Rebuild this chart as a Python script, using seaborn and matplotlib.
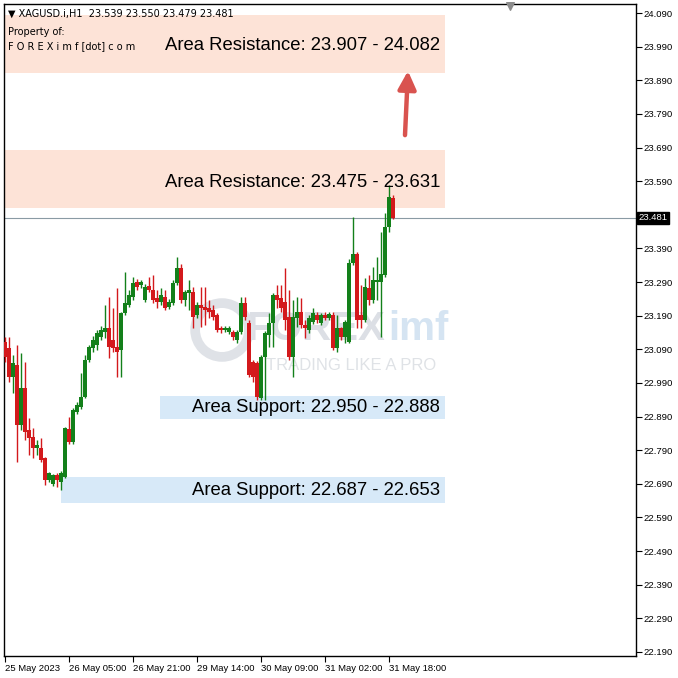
import numpy as np
import pandas as pd
import matplotlib
matplotlib.use("Agg")
import matplotlib.pyplot as plt
import seaborn as sns

# XAGUSD H1 candles
opens = [23.111, 23.093, 23.007, 23.042, 22.864, 22.974, 22.849, 22.828, 22.796, 22.796,
         22.766, 22.700, 22.689, 22.715, 22.694, 22.709, 22.852, 22.813, 22.903, 22.918,
         22.947, 23.057, 23.093, 23.102, 23.126, 23.141, 23.152, 23.117, 23.096, 23.087,
         23.197, 23.221, 23.245, 23.289, 23.280, 23.236, 23.277, 23.265, 23.242, 23.230,
         23.245, 23.215, 23.227, 23.286, 23.331, 23.236, 23.257, 23.260, 23.191, 23.221,
         23.215, 23.212, 23.206, 23.191, 23.152, 23.147, 23.141, 23.141, 23.117, 23.141,
         23.227, 23.167, 23.051, 23.048, 22.944, 23.066, 23.132, 23.167, 23.251, 23.242,
         23.230, 23.185, 23.066, 23.182, 23.200, 23.161, 23.147, 23.170, 23.191, 23.167,
         23.191, 23.182, 23.191, 23.093, 23.152, 23.126, 23.111, 23.346, 23.373, 23.191,
         23.176, 23.271, 23.236, 23.289, 23.289, 23.310, 23.453, 23.539]
closes = [23.066, 23.007, 23.048, 22.864, 22.974, 22.843, 22.825, 22.796, 22.805, 22.760,
          22.700, 22.721, 22.715, 22.700, 22.721, 22.855, 22.813, 22.909, 22.923, 22.947,
          23.057, 23.096, 23.117, 23.138, 23.147, 23.152, 23.096, 23.093, 23.081, 23.197,
          23.227, 23.251, 23.286, 23.274, 23.289, 23.274, 23.265, 23.236, 23.230, 23.251,
          23.212, 23.230, 23.286, 23.331, 23.236, 23.260, 23.265, 23.185, 23.221, 23.212,
          23.206, 23.200, 23.185, 23.147, 23.147, 23.152, 23.152, 23.126, 23.141, 23.227,
          23.185, 23.013, 23.007, 22.947, 23.066, 23.138, 23.167, 23.251, 23.236, 23.212,
          23.176, 23.066, 23.185, 23.200, 23.161, 23.152, 23.182, 23.197, 23.176, 23.191,
          23.182, 23.194, 23.093, 23.152, 23.126, 23.170, 23.346, 23.373, 23.176, 23.176,
          23.274, 23.236, 23.295, 23.295, 23.313, 23.453, 23.542, 23.481]
highs = [23.126, 23.126, 23.072, 23.102, 23.078, 23.051, 22.885, 22.855, 22.819, 22.825,
         22.770, 22.724, 22.718, 22.721, 22.727, 22.858, 22.888, 22.915, 22.932, 23.019,
         23.072, 23.102, 23.129, 23.147, 23.158, 23.221, 23.245, 23.212, 23.271, 23.200,
         23.319, 23.265, 23.304, 23.298, 23.295, 23.283, 23.304, 23.310, 23.265, 23.271,
         23.265, 23.239, 23.295, 23.364, 23.343, 23.265, 23.295, 23.274, 23.230, 23.274,
         23.274, 23.236, 23.221, 23.197, 23.158, 23.158, 23.158, 23.147, 23.147, 23.245,
         23.245, 23.176, 23.057, 23.054, 23.072, 23.144, 23.197, 23.257, 23.280, 23.280,
         23.331, 23.265, 23.236, 23.245, 23.242, 23.176, 23.191, 23.212, 23.200, 23.197,
         23.200, 23.200, 23.200, 23.191, 23.155, 23.176, 23.358, 23.483, 23.378, 23.280,
         23.301, 23.310, 23.334, 23.364, 23.438, 23.494, 23.578, 23.550]
lows = [23.051, 22.992, 22.959, 22.754, 22.849, 22.819, 22.775, 22.766, 22.775, 22.754,
        22.686, 22.694, 22.683, 22.680, 22.671, 22.706, 22.807, 22.807, 22.897, 22.912,
        22.944, 23.051, 23.081, 23.087, 23.117, 23.123, 23.063, 23.081, 23.007, 23.007,
        23.191, 23.215, 23.236, 23.265, 23.271, 23.230, 23.260, 23.227, 23.212, 23.221,
        23.206, 23.209, 23.221, 23.280, 23.227, 23.218, 23.206, 23.152, 23.182, 23.155,
        23.161, 23.182, 23.176, 23.141, 23.138, 23.141, 23.135, 23.117, 23.108, 23.135,
        23.176, 23.007, 22.992, 22.938, 22.938, 22.938, 23.096, 23.096, 23.212, 23.200,
        23.147, 23.057, 23.007, 23.155, 23.152, 23.123, 23.138, 23.164, 23.167, 23.161,
        23.176, 23.176, 23.087, 23.081, 23.117, 23.108, 23.108, 23.340, 23.152, 23.152,
        23.170, 23.221, 23.227, 23.236, 23.126, 23.304, 23.438, 23.479]

time_labels = ["25 May 2023", "26 May 05:00", "26 May 21:00", "29 May 14:00",
               "30 May 09:00", "31 May 02:00", "31 May 18:00"]
label_bars = [0, 16, 32, 48, 64, 80, 96]

# zones drawn on the chart
zone_lo = [23.912, 23.509, 22.883, 22.632]
zone_hi = [24.084, 23.682, 22.950, 22.709]
zone_start = [-0.25, -0.25, 38.75, 14.0]
zone_text = ["Area Resistance: 23.907 - 24.082", "Area Resistance: 23.475 - 23.631",
             "Area Support: 22.950 - 22.888", "Area Support: 22.687 - 22.653"]
zone_text_y = [23.995, 23.587, 22.918, 22.669]
zone_kind = ["res", "res", "sup", "sup"]

last_price = 23.481
ohlc_header = "XAGUSD.i,H1  23.539 23.550 23.479 23.481"

df = pd.DataFrame({"open": opens, "high": highs, "low": lows, "close": closes})
df["bar"] = np.arange(len(df))
df["up"] = df["close"] >= df["open"]

sns.set_theme(style="white")
plt.rcParams["font.family"] = ["Liberation Sans", "DejaVu Sans"]

GREEN = "#13801a"
RED = "#d3191c"
RES_COL = "#fde3d7"
SUP_COL = "#d7e9f8"

fig = plt.figure(figsize=(6.78, 6.78), dpi=100)
fig.patch.set_facecolor("white")
ax = fig.add_axes([4 / 678, 22 / 678, 632 / 678, 652 / 678])
ax.set_facecolor("white")

zone_end = 110.0
for lo, hi, x0, txt, ty, kind in zip(zone_lo, zone_hi, zone_start, zone_text, zone_text_y, zone_kind):
    ax.fill_between([x0, zone_end], lo, hi, color=RES_COL if kind == "res" else SUP_COL,
                    lw=0, zorder=0)
    ax.text(108.75, ty, txt, ha="right", va="center", fontsize=13.3, color="black", zorder=5)

# watermark
ax.text(0.383, 0.502, "FOREX", transform=ax.transAxes, fontsize=29, fontweight="bold",
        color="#dcdfe5", ha="left", va="center", zorder=0.5)
ax.text(0.608, 0.502, "imf", transform=ax.transAxes, fontsize=29, fontweight="bold",
        color="#d5e4f2", ha="left", va="center", zorder=0.5)
ax.text(0.415, 0.445, "TRADING LIKE A PRO", transform=ax.transAxes, fontsize=12,
        color="#dfe2e6", ha="left", va="center", zorder=0.5)
ax.scatter([0.345], [0.50], transform=ax.transAxes, s=1500, facecolor="none",
           edgecolor="#dfe2e7", linewidth=7, zorder=0.5)

# candles
colors = np.where(df["up"], GREEN, RED)
ax.vlines(df["bar"], df["low"], df["high"], colors=colors, lw=1.0, zorder=3)
body_lo = np.minimum(df["open"], df["close"])
body_h = np.maximum(np.abs(df["close"] - df["open"]), 0.003)
ax.bar(df["bar"], body_h, bottom=body_lo, width=0.8, color=colors, lw=0, zorder=4)

# current price line
ax.axhline(last_price, color="#8a9aa4", lw=0.8, zorder=2)

# arrow
ax.annotate("", xy=(100.75, 23.918), xytext=(100.0, 23.727),
            arrowprops=dict(arrowstyle="-|>,head_length=0.9,head_width=0.45",
                            color="#d9534f", lw=3.2, shrinkA=0, shrinkB=0), zorder=6)

ax.set_xlim(-0.25, 157.75)
ax.set_ylim(22.178, 24.117)

yt = np.round(np.arange(22.19, 24.091, 0.1), 3)
ax.yaxis.tick_right()
ax.set_yticks(yt)
# the price tag hides the tick label next to it
ax.set_yticklabels(["" if abs(v - last_price) < 0.05 else f"{v:.3f}" for v in yt], fontsize=6.8)
ax.set_xticks(label_bars)
ax.set_xticklabels(time_labels, fontsize=6.8, ha="left")
ax.tick_params(axis="both", which="both", direction="out", length=4, width=0.8,
               color="black", pad=1.5, labelcolor="black")
ax.tick_params(axis="y", left=False, right=True)
ax.tick_params(axis="x", bottom=True)
for s in ax.spines.values():
    s.set_visible(True)
    s.set_color("black")
    s.set_linewidth(1.0)

# price tag on axis
ax.text(1.004, last_price, f"{last_price:.3f}", transform=ax.get_yaxis_transform(),
        ha="left", va="center", fontsize=6.8, color="white", zorder=10, clip_on=False,
        bbox=dict(boxstyle="square,pad=0.15", fc="black", ec="black"))

# header
ax.text(0.006, 0.992, "\u25bc " + ohlc_header, transform=ax.transAxes, fontsize=7,
        ha="left", va="top", color="black", family=["DejaVu Sans"])
ax.text(0.006, 0.965, "Property of:", transform=ax.transAxes, fontsize=7,
        ha="left", va="top", color="black", family=["DejaVu Sans"])
ax.text(0.006, 0.943, "F O R E X i m f [dot] c o m", transform=ax.transAxes, fontsize=7,
        ha="left", va="top", color="black", family=["DejaVu Sans"])

# shift marker
ax.scatter([0.8], [0.997], transform=ax.transAxes, marker="v", s=30, color="#8c8c8c",
           zorder=10, clip_on=False)

plt.savefig("out.png", dpi=100)
plt.close()
